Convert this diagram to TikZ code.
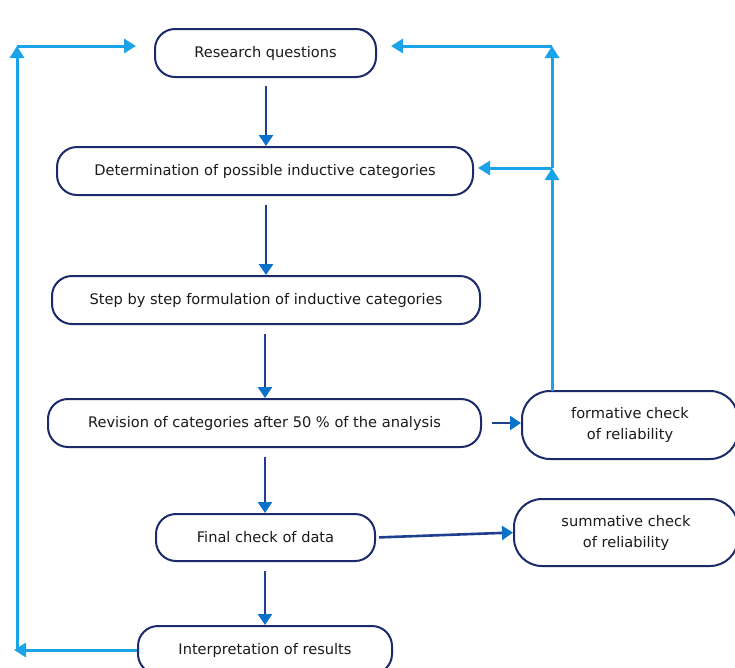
\documentclass[tikz,border=0pt]{standalone}
\usepackage{fontspec}
\setmainfont{DejaVu Sans}
\usetikzlibrary{arrows.meta}
\definecolor{boxline}{HTML}{1B2A6B}
\definecolor{darkarrow}{HTML}{1F3F8F}
\definecolor{tipblue}{HTML}{0A72C8}
\definecolor{fbblue}{HTML}{1AA3E8}
\definecolor{txt}{HTML}{1A1A1A}
\tikzset{
  box/.style={draw=boxline, line width=2pt, rounded corners=20pt, fill=white,
    text=txt, font=\fontsize{14.6}{21}\selectfont, align=center, inner sep=0pt},
  flow/.style={draw=darkarrow, line width=2.6pt,
    -{Triangle[length=11pt,width=14pt,color=tipblue]}},
  fb/.style={draw=fbblue, line width=3pt},
  fbarrow/.style={fb, -{Triangle[length=12pt,width=14pt]}, shorten >=0pt},
}
\begin{document}
\begin{tikzpicture}[x=1pt,y=-1pt]
\useasboundingbox (0,0) rectangle (735,667);
\node[box, minimum width=221pt, minimum height=48pt] (rq) at (265.5,53) {Research questions};
\node[box, minimum width=416pt, minimum height=48pt] (det) at (265,171) {Determination of possible inductive categories};
\node[box, minimum width=428pt, minimum height=48pt] (step) at (266,300) {Step by step formulation of inductive categories};
\node[box, minimum width=433pt, minimum height=48pt] (rev) at (264.5,423) {Revision of categories after 50 \% of the analysis};
\node[box, minimum width=216pt, minimum height=68pt, rounded corners=28pt] (form) at (630,425) {formative check\\of reliability};
\node[box, minimum width=219pt, minimum height=47pt] (fin) at (265.5,537.5) {Final check of data};
\node[box, minimum width=224pt, minimum height=67pt, rounded corners=28pt] (sum) at (626,532.5) {summative check\\of reliability};
\node[box, minimum width=254pt, minimum height=48pt] (interp) at (265,650) {Interpretation of results};

% main flow
\draw[flow, shorten <=8pt] (rq.south -| 266,0) -- (det.north -| 266,0);
\draw[flow, shorten <=9pt] (det.south -| 266,0) -- (step.north -| 266,0);
\draw[flow, shorten <=9pt] (step.south -| 265,0) -- (rev.north -| 265,0);
\draw[flow, shorten <=9pt] (rev.south -| 265,0) -- (fin.north -| 265,0);
\draw[flow, shorten <=9pt] (fin.south -| 265,0) -- (interp.north -| 265,0);
\draw[flow, shorten <=10pt] (rev.east) -- (rev.east -| form.west);
\draw[flow, shorten <=3pt] (fin.east) -- (sum.west);

% feedback left
\coordinate (L1) at (17,650);
\coordinate (L2) at (17,46);
\draw[fbarrow, shorten >=-3pt] (interp.west) -- (L1);
\draw[fbarrow] (L1) -- (L2);
\draw[fbarrow, shorten >=18pt] (L2) -- (L2 -| rq.west);

% feedback right
\coordinate (R0) at (552,391);
\coordinate (R1) at (552,168);
\coordinate (R2) at (552,46);
\draw[fbarrow] (R0) -- (R1);
\draw[fbarrow] (R1) -- (R2);
\draw[fbarrow, shorten >=14pt] (R2) -- (R2 -| rq.east);
\draw[fbarrow, shorten >=4pt] (R1) -- (R1 -| det.east);
\end{tikzpicture}
\end{document}
